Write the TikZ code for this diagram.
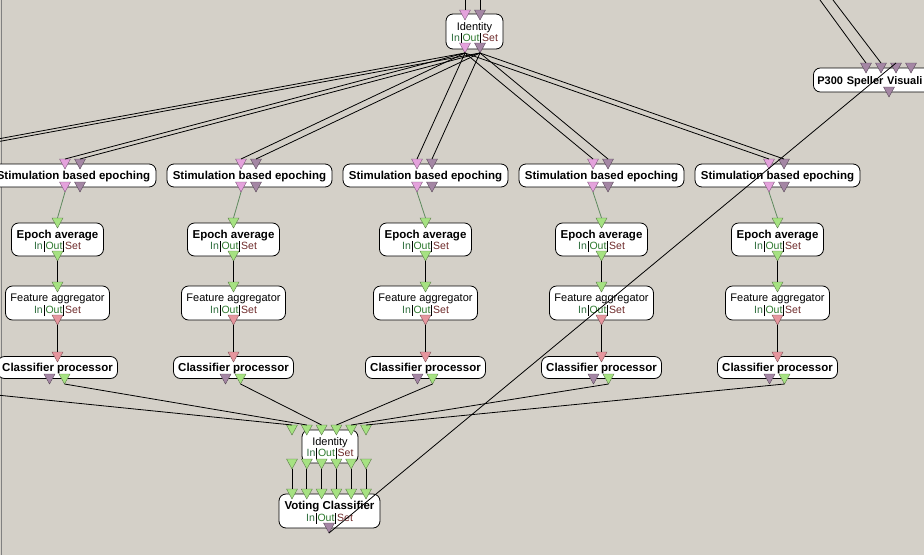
\documentclass[tikz,border=0pt]{standalone}
\usepackage{fontspec}
\setmainfont{Liberation Sans}
\definecolor{bg}{HTML}{D4D0C8}
\definecolor{stimpink}{HTML}{E4A2DC}
\definecolor{stimmauve}{HTML}{A486A4}
\definecolor{sigreen}{HTML}{A6E282}
\definecolor{fvred}{HTML}{E6969E}
\definecolor{ingreen}{HTML}{2E6E3E}
\definecolor{outgreen}{HTML}{2E7A2E}
\definecolor{setred}{HTML}{6E2A2A}
\definecolor{linkgreen}{HTML}{5E8A5E}
\newcommand\ios{{\mdseries\fontsize{10.5}{11}\selectfont\textcolor{ingreen}{In}\kern1pt\rule[-2.5pt]{0.7pt}{11pt}\kern1pt\textcolor{outgreen}{Out}\kern1pt\rule[-2.5pt]{0.7pt}{11pt}\kern1pt\textcolor{setred}{Set}}}
\newcommand\tstrut{\rule{0pt}{11.3pt}}
% name, x, top y, colour : (name) = top centre, (aname) = apex
\newcommand\porttri[4]{%
  \filldraw[fill=#4, draw=#4!55!black, line width=0.4pt] (#2-5.5,#3) -- (#2+5.5,#3) -- (#2,#3+10) -- cycle;
  \coordinate (#1) at (#2,#3);
  \coordinate (a#1) at (#2,#3+10);}
\begin{document}
\begin{tikzpicture}[x=1pt,y=-1pt,
  box/.style={draw=black, fill=white, rounded corners=7pt, line width=0.8pt, inner sep=0pt, align=center, font=\fontsize{11}{11.5}\selectfont},
  bold/.style={font=\fontsize{11.5}{11.5}\selectfont\bfseries},
  one/.style={text height=10.5pt, text depth=2.5pt},
  link/.style={draw=black, line width=0.8pt},
  glink/.style={draw=linkgreen, line width=0.8pt}]
\fill[bg] (0,0) rectangle (924,555);
\useasboundingbox (0,0) rectangle (924,555);
\clip (0,0) rectangle (924,555);
\draw[gray, line width=1pt] (1.5,0) -- (1.5,555);

% ---------- boxes ----------
\node[box, minimum width=57pt, minimum height=35pt] (idtop) at (474.5,31.5) {\tstrut Identity\\\ios};
\foreach \i in {1,...,5}{
  \pgfmathsetmacro\c{-102.5+176*\i}
  \pgfmathsetmacro\e{\i<3 ? \c-16 : \c}
  \node[box, bold, one, minimum width=165pt, minimum height=23pt] (stim\i) at (\c,175.5) {Stimulation based epoching};
  \node[box, bold, minimum width=92pt, minimum height=33pt] (ep\i) at (\e,239.5) {\tstrut Epoch average\\\ios};
  \node[box, minimum width=104pt, minimum height=34pt] (fa\i) at (\e,303) {\tstrut Feature aggregator\\\ios};
  \node[box, bold, one, minimum width=120pt, minimum height=22pt] (cp\i) at (\e,367.5) {Classifier processor};
}
\node[box, minimum width=56pt, minimum height=33pt] (idb) at (330,446.5) {\tstrut Identity\\\ios};
\node[box, bold, minimum width=101pt, minimum height=34pt] (vote) at (329.5,511) {\tstrut Voting Classifier\\\ios};
\node[box, bold, one, font=\fontsize{11}{11.5}\selectfont\bfseries, anchor=west, minimum height=24pt, text width=140pt, align=left, inner xsep=4pt] (p300) at (813,80) {P300 Speller Visuali};

% ---------- ports ----------
\porttri{idTiP}{465}{10}{stimpink}
\porttri{idTiM}{480}{10}{stimmauve}
\porttri{idToP}{465}{43}{stimpink}
\porttri{idToM}{480}{43}{stimmauve}
\foreach \i in {1,...,5}{
  \pgfmathsetmacro\c{-102.5+176*\i}
  \pgfmathsetmacro\e{\i<3 ? \c-16 : \c}
  \porttri{sIP\i}{\c-8.5}{159}{stimpink}
  \porttri{sIM\i}{\c+6.5}{159}{stimmauve}
  \porttri{sOP\i}{\c-8.5}{182}{stimpink}
  \porttri{sOM\i}{\c+6.5}{182}{stimmauve}
  \porttri{eI\i}{\e}{218}{sigreen}
  \porttri{eO\i}{\e}{251}{sigreen}
  \porttri{fI\i}{\e}{282}{sigreen}
  \porttri{fO\i}{\e}{315}{fvred}
  \porttri{cI\i}{\e}{352}{fvred}
  \porttri{cOM\i}{\e-8}{374}{stimmauve}
  \porttri{cOG\i}{\e+7}{374}{sigreen}
}
\foreach \k in {0,...,5}{
  \pgfmathsetmacro\x{292+14.8*\k}
  \porttri{bI\k}{\x}{425}{sigreen}
  \porttri{bO\k}{\x}{459}{sigreen}
  \porttri{vI\k}{\x}{489}{sigreen}
}
\porttri{vO}{329}{523}{stimmauve}
\porttri{pI1}{866}{63}{stimmauve}
\porttri{pI2}{881}{63}{stimmauve}
\porttri{pI3}{896}{63}{stimmauve}
\porttri{pI4}{911}{63}{stimmauve}
\porttri{pO}{889}{87}{stimmauve}

% free ends outside the view
\coordinate (topA) at (465,0);
\coordinate (topB) at (480,0);
\coordinate (pA) at (820,0);
\coordinate (pB) at (833,0);
\coordinate (sIP0) at (-111,159);
\coordinate (sIM0) at (-96,159);
\coordinate (acOG0) at (-111.5,384);

% ---------- links ----------
\draw[link] (topA) -- (idTiP);
\draw[link] (topB) -- (idTiM);
\draw[link] (pA) -- (pI1);
\draw[link] (pB) -- (pI2);
\foreach \i in {0,...,5}{
  \draw[link] (aidToP) -- (sIP\i);
  \draw[link] (aidToM) -- (sIM\i);
  \draw[link] (acOG\i) -- (bI\i);
}
\foreach \i in {1,...,5}{
  \draw[glink] (asOP\i) -- (eI\i);
  \draw[link] (aeO\i) -- (fI\i);
  \draw[link] (afO\i) -- (cI\i);
}
\foreach \k in {0,...,5}{
  \draw[link] (abO\k) -- (vI\k);
}
\draw[link] (avO) -- (pI3);
\end{tikzpicture}
\end{document}
